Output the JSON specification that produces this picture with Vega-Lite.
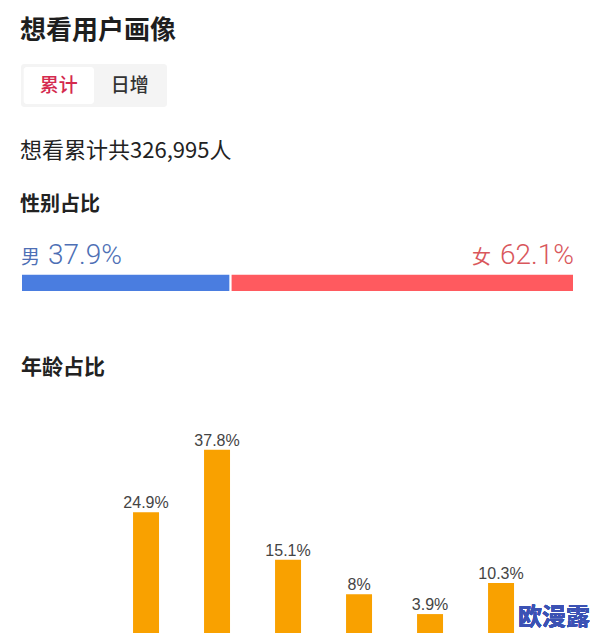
{
  "$schema": "https://vega.github.io/schema/vega-lite/v6.json",
  "background": "white",
  "padding": {"left": 20, "top": 18, "right": 0, "bottom": 0},
  "title": {"text": "想看用户画像", "anchor": "start", "fontSize": 26, "font": "Noto Sans CJK SC", "fontWeight": "bold", "color": "#1e1e1e", "offset": 20},
  "config": {"view": {"stroke": null}, "font": "Noto Sans CJK SC"},
  "spacing": 33,
  "resolve": {"scale": {"color": "independent"}},
  "vconcat": [
    {
      "width": 146,
      "height": 43,
      "view": {"fill": "#f4f4f4", "stroke": null, "cornerRadius": 3},
      "data": {"values": [{"k": "累计", "s": "on"}, {"k": "日增", "s": "off"}]},
      "layer": [
        {
          "transform": [{"filter": "datum.s == 'on'"}],
          "mark": {"type": "rect", "fill": "white", "cornerRadius": 3},
          "encoding": {
            "x": {"field": "k", "type": "nominal", "sort": ["累计", "日增"], "axis": null, "scale": {"domain": ["累计", "日增"], "paddingInner": 0.01, "paddingOuter": 0.033, "align": 0.57, "round": false}},
            "y": {"datum": "r", "type": "nominal", "axis": null, "scale": {"paddingOuter": 0.081, "paddingInner": 0}}
          }
        },
        {
          "mark": {"type": "text", "fontSize": 19, "baseline": "middle", "font": "Noto Sans CJK SC", "fontWeight": 500},
          "encoding": {
            "x": {"field": "k", "type": "nominal", "sort": ["累计", "日增"], "axis": null},
            "text": {"field": "k"},
            "color": {"field": "s", "type": "nominal", "scale": {"domain": ["on", "off"], "range": ["#d42a4e", "#333333"]}, "legend": null}
          }
        }
      ]
    },
    {
      "width": 553,
      "height": 82,
      "title": {"text": "想看累计共326,995人", "subtitle": "性别占比", "anchor": "start", "font": "Noto Sans CJK SC", "fontSize": 22, "fontWeight": "normal", "color": "#222222", "subtitleFont": "Noto Sans CJK SC", "subtitleFontSize": 20, "subtitleFontWeight": "bold", "subtitleColor": "#222222", "subtitlePadding": 32, "offset": 25},
      "data": {"values": [{"sex": "男", "pct": 0.379}, {"sex": "女", "pct": 0.621}]},
      "transform": [{"stack": "pct", "groupby": [], "sort": [{"field": "sex", "order": "descending"}], "as": ["x0", "x1"]}],
      "layer": [
        {
          "mark": {"type": "rect", "stroke": "white", "strokeWidth": 2},
          "encoding": {
            "x": {"field": "x0", "type": "quantitative", "scale": {"domain": [0, 1], "nice": false}, "axis": null},
            "x2": {"field": "x1"},
            "y": {"datum": 0, "type": "quantitative", "scale": {"domain": [-6.08, 10], "nice": false, "zero": false}, "axis": null},
            "y2": {"datum": 3.6},
            "color": {"field": "sex", "type": "nominal", "scale": {"domain": ["男", "女"], "range": ["#4a7de0", "#ff5a5f"]}, "legend": null}
          }
        },
        {
          "transform": [{"filter": "datum.sex == '男'"}],
          "mark": {"type": "text", "align": "left", "baseline": "alphabetic", "fontSize": 19, "font": "Noto Sans CJK SC", "color": "#4e6fb5"},
          "encoding": {"x": {"field": "x0", "type": "quantitative"}, "y": {"datum": 5.5, "type": "quantitative"}, "text": {"field": "sex"}}
        },
        {
          "transform": [{"filter": "datum.sex == '男'"}],
          "mark": {"type": "text", "align": "left", "baseline": "alphabetic", "fontSize": 28, "font": "Roboto", "fontWeight": 300, "dx": 27, "color": "#4e6fb5"},
          "encoding": {"x": {"field": "x0", "type": "quantitative"}, "y": {"datum": 5.5, "type": "quantitative"}, "text": {"field": "pct", "type": "quantitative", "format": ".1%"}}
        },
        {
          "transform": [{"filter": "datum.sex == '女'"}],
          "mark": {"type": "text", "align": "right", "baseline": "alphabetic", "fontSize": 28, "font": "Roboto", "fontWeight": 300, "color": "#d9575c"},
          "encoding": {"x": {"field": "x1", "type": "quantitative"}, "y": {"datum": 5.5, "type": "quantitative"}, "text": {"field": "pct", "type": "quantitative", "format": ".1%"}}
        },
        {
          "transform": [{"filter": "datum.sex == '女'"}],
          "mark": {"type": "text", "align": "right", "baseline": "alphabetic", "fontSize": 19, "font": "Noto Sans CJK SC", "dx": -83, "color": "#d9575c"},
          "encoding": {"x": {"field": "x1", "type": "quantitative"}, "y": {"datum": 5.5, "type": "quantitative"}, "text": {"field": "sex"}}
        }
      ]
    },
    {
      "width": 523,
      "height": 194,
      "title": {"text": "年龄占比", "anchor": "start", "font": "Noto Sans CJK SC", "fontSize": 21, "fontWeight": "bold", "color": "#222222", "offset": 55},
      "data": {"values": [
        {"age": "20岁以下", "pct": 0.249},
        {"age": "20-24岁", "pct": 0.378},
        {"age": "25-29岁", "pct": 0.151},
        {"age": "30-34岁", "pct": 0.08},
        {"age": "35-39岁", "pct": 0.039},
        {"age": "40岁以上", "pct": 0.103}
      ]},
      "layer": [
        {
          "mark": {"type": "bar", "color": "#f9a100"},
          "encoding": {
            "x": {"field": "age", "type": "nominal", "sort": null, "axis": null, "scale": {"paddingInner": 0.634, "paddingOuter": 1, "align": 0.789, "round": false}},
            "y": {"field": "pct", "type": "quantitative", "axis": null, "scale": {"domain": [0, 0.4], "nice": false}}
          }
        },
        {
          "mark": {"type": "text", "baseline": "alphabetic", "dy": -4, "fontSize": 16, "font": "Liberation Sans", "color": "#444444"},
          "encoding": {
            "x": {"field": "age", "type": "nominal", "sort": null, "axis": null},
            "y": {"field": "pct", "type": "quantitative", "axis": null},
            "text": {"field": "pct", "type": "quantitative", "format": ".1~%"}
          }
        },
        {
          "mark": {"type": "text", "font": "Noto Sans CJK SC", "fontWeight": "bold", "fontSize": 24, "color": "#3b52b4", "dx": 53, "baseline": "middle"},
          "encoding": {
            "x": {"datum": "40岁以上", "type": "nominal", "axis": null},
            "y": {"datum": 0.031, "type": "quantitative", "axis": null},
            "text": {"value": "欧漫露"}
          }
        }
      ]
    }
  ]
}
